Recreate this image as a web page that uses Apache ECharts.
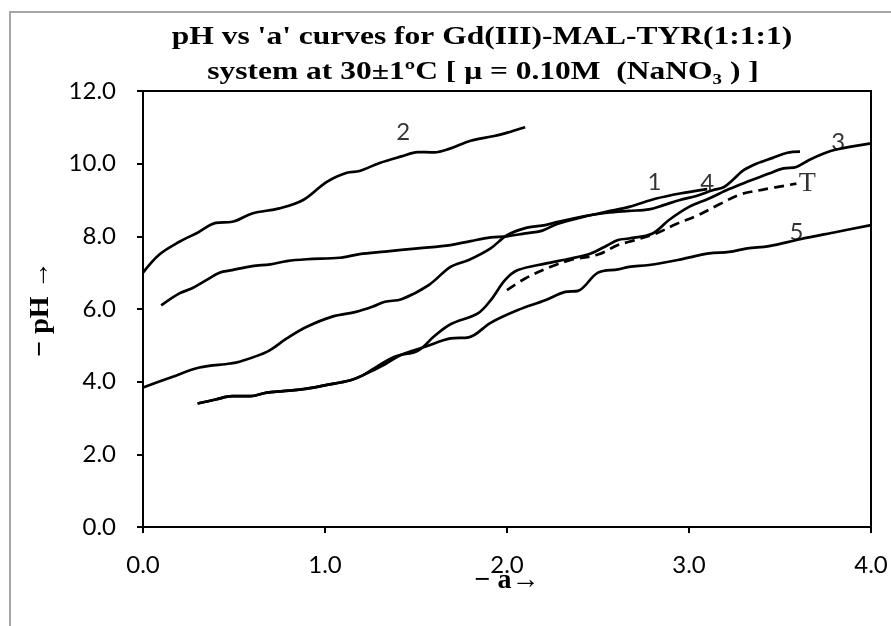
<!DOCTYPE html>
<html><head><meta charset="utf-8">
<script src="https://cdn.jsdelivr.net/npm/echarts@6/dist/echarts.min.js"></script>
<style>html,body{margin:0;padding:0;background:#fff}#chart{width:891px;height:626px}</style>
</head><body><div id="chart"></div>
<script>
// ---- text ----
const titleLine1 = "pH vs 'a' curves for Gd(III)-MAL-TYR(1:1:1)";
const titleLine2 = "system at 30±1ºC [ μ = 0.10M  (NaNO₃ ) ]";
const xAxisName = "− a→";
const yAxisName = "− pH →";

// ---- data: [a, pH] ----
const curve1 = [[0.10,6.10],[0.20,6.43],[0.27,6.57],[0.35,6.80],[0.42,7.00],[0.49,7.07],[0.60,7.18],[0.70,7.23],[0.79,7.32],[0.90,7.37],[1.08,7.41],[1.19,7.51],[1.33,7.58],[1.51,7.67],[1.69,7.76],[1.80,7.87],[1.91,7.97],[2.00,8.00],[2.10,8.08],[2.19,8.15],[2.28,8.35],[2.43,8.55],[2.55,8.68],[2.67,8.81],[2.82,9.04],[2.95,9.18],[3.10,9.30]];
const curve2 = [[0.00,7.00],[0.09,7.50],[0.20,7.85],[0.30,8.10],[0.40,8.37],[0.49,8.40],[0.60,8.63],[0.75,8.77],[0.88,9.00],[1.01,9.50],[1.12,9.75],[1.19,9.80],[1.30,10.02],[1.42,10.20],[1.51,10.32],[1.60,10.31],[1.69,10.42],[1.80,10.63],[1.93,10.76],[2.02,10.88],[2.10,11.00]];
const curve3 = [[0.30,3.40],[0.40,3.51],[0.49,3.60],[0.59,3.60],[0.68,3.70],[0.77,3.74],[0.90,3.81],[1.01,3.91],[1.14,4.04],[1.21,4.18],[1.30,4.46],[1.39,4.70],[1.51,4.85],[1.60,5.25],[1.69,5.58],[1.84,5.88],[1.91,6.24],[1.99,6.80],[2.06,7.07],[2.21,7.25],[2.35,7.39],[2.46,7.53],[2.55,7.75],[2.61,7.90],[2.67,7.94],[2.80,8.08],[2.89,8.45],[3.00,8.81],[3.11,9.04],[3.22,9.30],[3.33,9.52],[3.44,9.73],[3.52,9.87],[3.59,9.91],[3.66,10.10],[3.74,10.28],[3.81,10.39],[4.00,10.56]];
const curve4 = [[0.00,3.84],[0.16,4.13],[0.31,4.39],[0.48,4.50],[0.53,4.55],[0.68,4.82],[0.79,5.19],[0.90,5.51],[1.04,5.79],[1.17,5.92],[1.26,6.06],[1.33,6.20],[1.42,6.27],[1.57,6.66],[1.69,7.16],[1.79,7.35],[1.91,7.67],[2.00,8.03],[2.11,8.24],[2.21,8.31],[2.28,8.40],[2.43,8.56],[2.55,8.65],[2.67,8.70],[2.78,8.74],[2.86,8.86],[2.95,9.00],[3.04,9.11],[3.13,9.27],[3.19,9.35],[3.24,9.55],[3.30,9.82],[3.37,10.00],[3.46,10.16],[3.54,10.30],[3.61,10.33]];
const curve5 = [[0.30,3.40],[0.40,3.51],[0.49,3.60],[0.59,3.60],[0.68,3.70],[0.77,3.74],[0.90,3.81],[1.01,3.91],[1.14,4.04],[1.21,4.18],[1.33,4.48],[1.42,4.74],[1.55,4.96],[1.69,5.19],[1.79,5.22],[1.91,5.62],[2.06,5.97],[2.21,6.24],[2.32,6.47],[2.39,6.50],[2.50,7.00],[2.61,7.09],[2.67,7.16],[2.78,7.21],[2.95,7.36],[3.11,7.53],[3.22,7.57],[3.32,7.67],[3.44,7.73],[3.61,7.92],[3.81,8.12],[4.00,8.31]];
const curveT = [[2.00,6.52],[2.10,6.84],[2.24,7.16],[2.35,7.35],[2.50,7.50],[2.61,7.76],[2.67,7.85],[2.82,8.08],[2.93,8.34],[3.04,8.56],[3.17,8.89],[3.28,9.15],[3.40,9.28],[3.59,9.45]];

// ---- curve labels ----
const labelTexts = ['2','1','4','3','T','5'];
const labelA = [1.43,2.81,3.10,3.82,3.65,3.59];
const labelPH = [10.87,9.50,9.45,10.58,9.44,8.12];

const serifBold = 'bold 25px "Liberation Serif", "Times New Roman", serif';
const numFont = 'Lato, Carlito, sans-serif';

function lineSeries(name, data, dashed) {
  return {
    name: name, type: 'line', data: data, showSymbol: false, symbol: 'none',
    smooth: 0.35, silent: true, animation: false,
    lineStyle: { color: '#000', width: 2.7, type: dashed ? [10, 6] : 'solid', cap: 'butt' }
  };
}

const labelData = labelTexts.map((t, i) => {
  const item = { value: [labelA[i], labelPH[i]], name: t };
  if (t === 'T') item.label = { fontFamily: '"Liberation Serif", "Times New Roman", serif', fontSize: 28 };
  return item;
});

const chart = echarts.init(document.getElementById('chart'), null, { renderer: 'canvas' });
chart.setOption({
  animation: false,
  backgroundColor: '#fff',
  grid: { left: 143, right: 20, top: 91, bottom: 99, show: true, borderColor: '#000', borderWidth: 2, backgroundColor: 'transparent' },
  graphic: [
    { type: 'rect', silent: true, z: -10, shape: { x: 10, y: 12, width: 1000, height: 1000 }, style: { fill: 'none', stroke: '#a6a6a6', lineWidth: 2 } },
    { type: 'text', x: 482, y: 38, scaleX: 1.26, silent: true, style: { text: titleLine1, font: serifBold, fill: '#000', align: 'center', verticalAlign: 'middle', textAlign: 'center', textVerticalAlign: 'middle' } },
    { type: 'text', x: 483, y: 73, scaleX: 1.26, silent: true, style: { text: titleLine2, font: serifBold, fill: '#000', align: 'center', verticalAlign: 'middle', textAlign: 'center', textVerticalAlign: 'middle' } }
  ],
  xAxis: {
    type: 'value', min: 0, max: 4, interval: 1,
    name: xAxisName, nameLocation: 'middle', nameGap: 40, nameMoveOverlap: false,
    nameTextStyle: { fontFamily: '"Liberation Serif", "Times New Roman", serif', fontWeight: 'bold', fontSize: 28, color: '#000' },
    axisLine: { show: true, onZero: false, lineStyle: { color: '#000', width: 2 } },
    axisTick: { show: true, inside: false, length: 6, lineStyle: { color: '#000', width: 2 } },
    axisLabel: { margin: 26, fontFamily: numFont, fontSize: 24, color: '#000', formatter: v => v.toFixed(1) },
    splitLine: { show: false }
  },
  yAxis: {
    type: 'value', min: 0, max: 12, interval: 2,
    name: yAxisName, nameLocation: 'middle', nameGap: 88, nameRotate: 90, nameMoveOverlap: false,
    nameTextStyle: { fontFamily: '"Liberation Serif", "Times New Roman", serif', fontWeight: 'bold', fontSize: 28, color: '#000' },
    axisLine: { show: true, onZero: false, lineStyle: { color: '#000', width: 2 } },
    axisTick: { show: true, inside: false, length: 6, lineStyle: { color: '#000', width: 2 } },
    axisLabel: { margin: 27, fontFamily: numFont, fontSize: 24, color: '#000', formatter: v => v.toFixed(1) },
    splitLine: { show: false }
  },
  series: [
    lineSeries('1', curve1, false),
    lineSeries('2', curve2, false),
    lineSeries('3', curve3, false),
    lineSeries('4', curve4, false),
    lineSeries('5', curve5, false),
    lineSeries('T', curveT, true),
    {
      name: 'labels', type: 'scatter', data: labelData, symbol: 'circle', symbolSize: 1, silent: true,
      itemStyle: { color: 'rgba(0,0,0,0)' },
      label: { show: true, position: 'inside', formatter: '{b}', fontFamily: numFont, fontSize: 24, color: '#000' },
      z: 5
    }
  ]
});
</script></body></html>
